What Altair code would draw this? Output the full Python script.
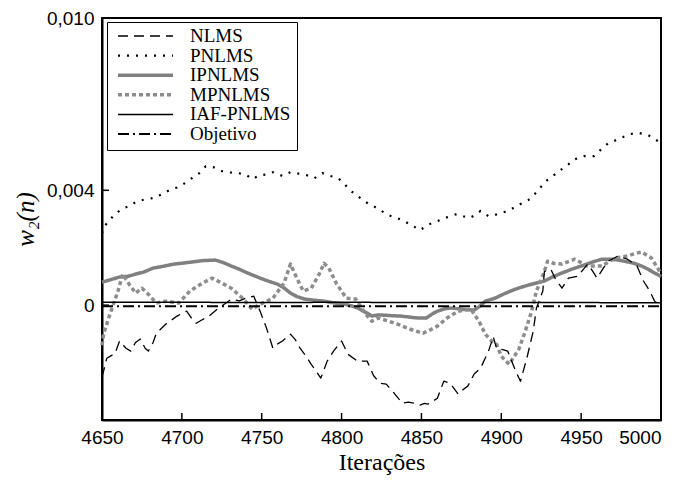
import altair as alt
import pandas as pd

series_names = ["NLMS", "PNLMS", "IPNLMS", "MPNLMS", "IAF-PNLMS", "Objetivo"]

nlms_it = [4650, 4651, 4653, 4656, 4658, 4661, 4665, 4668, 4671, 4674, 4677, 4679, 4682, 4684, 4690,
           4697, 4703, 4706, 4709, 4713, 4717, 4723, 4727, 4731, 4736, 4740, 4745, 4749, 4753, 4757,
           4760, 4763, 4768, 4771, 4774, 4778, 4781, 4784, 4787, 4791, 4795, 4800, 4804, 4810, 4816,
           4820, 4824, 4828, 4833, 4838, 4842, 4845, 4849, 4852, 4854, 4857, 4860, 4864, 4868, 4873,
           4876, 4879, 4883, 4887, 4892, 4895, 4897, 4901, 4904, 4909, 4912, 4916, 4920, 4922, 4926,
           4927, 4931, 4934, 4938, 4942, 4948, 4954, 4957, 4960, 4964, 4967, 4973, 4979, 4985, 4989,
           4993, 4996, 5000]
nlms_val = [-0.00250, -0.00230, -0.00185, -0.00175, -0.00171, -0.00125, -0.00150, -0.00160, -0.00130,
            -0.00118, -0.00150, -0.00160, -0.00130, -0.00098, -0.00066, -0.00038, -0.00021, -0.00045,
            -0.00063, -0.00050, -0.00038, -0.00010, 0.00005, 0.00021, 0.00015, 0.00024, 0.00031,
            -0.00021, -0.00080, -0.00150, -0.00135, -0.00125, -0.00101, -0.00120, -0.00150, -0.00180,
            -0.00206, -0.00230, -0.00254, -0.00195, -0.00160, -0.00125, -0.00171, -0.00195, -0.00195,
            -0.00245, -0.00272, -0.00275, -0.00307, -0.00341, -0.00338, -0.00341, -0.00348, -0.00342,
            -0.00345, -0.00335, -0.00324, -0.00265, -0.00272, -0.00310, -0.00295, -0.00282, -0.00240,
            -0.00220, -0.00160, -0.00110, -0.00150, -0.00155, -0.00160, -0.00230, -0.00265, -0.00185,
            -0.00091, -0.00010, 0.00049, 0.00118, 0.00125, 0.00090, 0.00059, 0.00094, 0.00101, 0.00143,
            0.00120, 0.00094, 0.00130, 0.00153, 0.00171, 0.00160, 0.00136, 0.00084, 0.00049, 0.00014,
            -0.00005]

pnlms_it = [4650, 4651, 4653, 4657, 4662, 4667, 4672, 4677, 4682, 4687, 4692, 4697, 4702, 4707, 4711,
            4715, 4720, 4725, 4730, 4735, 4740, 4744, 4749, 4753, 4757, 4763, 4768, 4773, 4778, 4783,
            4788, 4793, 4798, 4802, 4806, 4810, 4815, 4820, 4825, 4830, 4835, 4840, 4845, 4849, 4855,
            4859, 4863, 4868, 4872, 4876, 4880, 4884, 4887, 4892, 4898, 4904, 4908, 4912, 4917, 4921,
            4928, 4933, 4938, 4942, 4946, 4952, 4958, 4963, 4967, 4972, 4976, 4981, 4986, 4992, 4996,
            5000]
pnlms_val = [0.00250, 0.00265, 0.00286, 0.00310, 0.00334, 0.00345, 0.00362, 0.00368, 0.00373, 0.00385,
             0.00400, 0.00410, 0.00425, 0.00445, 0.00460, 0.00484, 0.00480, 0.00467, 0.00462, 0.00460,
             0.00455, 0.00439, 0.00453, 0.00455, 0.00463, 0.00450, 0.00463, 0.00458, 0.00453, 0.00442,
             0.00460, 0.00450, 0.00442, 0.00420, 0.00397, 0.00380, 0.00359, 0.00345, 0.00328, 0.00312,
             0.00303, 0.00290, 0.00275, 0.00261, 0.00282, 0.00290, 0.00300, 0.00310, 0.00317, 0.00310,
             0.00303, 0.00315, 0.00328, 0.00310, 0.00317, 0.00328, 0.00340, 0.00352, 0.00366, 0.00387,
             0.00432, 0.00453, 0.00474, 0.00490, 0.00508, 0.00519, 0.00519, 0.00545, 0.00564, 0.00575,
             0.00585, 0.00596, 0.00600, 0.00592, 0.00578, 0.00565]

ipnlms_it = [4650, 4655, 4661, 4666, 4671, 4676, 4682, 4688, 4695, 4700, 4706, 4713, 4721, 4726, 4731,
             4736, 4741, 4745, 4749, 4755, 4760, 4764, 4768, 4772, 4777, 4783, 4789, 4795, 4802, 4806,
             4810, 4815, 4819, 4823, 4827, 4832, 4837, 4843, 4848, 4853, 4857, 4860, 4865, 4869, 4875,
             4879, 4883, 4887, 4890, 4896, 4902, 4909, 4914, 4919, 4927, 4932, 4938, 4944, 4950, 4957,
             4963, 4968, 4973, 4978, 4983, 4988, 4992, 4996, 5000]
ipnlms_val = [0.00080, 0.00088, 0.00098, 0.00100, 0.00108, 0.00115, 0.00129, 0.00135, 0.00143, 0.00146,
              0.00150, 0.00155, 0.00157, 0.00148, 0.00136, 0.00125, 0.00112, 0.00103, 0.00094, 0.00082,
              0.00073, 0.00060, 0.00042, 0.00030, 0.00021, 0.00017, 0.00014, 0.00008, 0.00003, -0.00002,
              -0.00010, -0.00025, -0.00038, -0.00034, -0.00035, -0.00037, -0.00038, -0.00042, -0.00045,
              -0.00045, -0.00030, -0.00021, -0.00012, -0.00010, -0.00014, -0.00016, -0.00017, -0.00002,
              0.00014, 0.00024, 0.00040, 0.00056, 0.00065, 0.00073, 0.00084, 0.00098, 0.00112, 0.00125,
              0.00136, 0.00150, 0.00160, 0.00160, 0.00157, 0.00152, 0.00146, 0.00136, 0.00125, 0.00112,
              0.00100]

mpnlms_it = [4650, 4651, 4655, 4660, 4663, 4667, 4671, 4675, 4679, 4684, 4690, 4698, 4705, 4713, 4719,
             4725, 4731, 4738, 4744, 4749, 4757, 4764, 4768, 4772, 4776, 4781, 4786, 4789, 4792, 4797,
             4803, 4809, 4815, 4819, 4823, 4829, 4835, 4843, 4851, 4856, 4860, 4866, 4873, 4881, 4886,
             4890, 4894, 4897, 4900, 4905, 4911, 4915, 4919, 4922, 4927, 4929, 4933, 4938, 4946, 4954,
             4963, 4971, 4979, 4984, 4988, 4994, 5000]
mpnlms_val = [-0.00140, -0.00101, -0.00031, 0.00049, 0.00108, 0.00073, 0.00042, 0.00059, 0.00038,
              0.00007, 0.00014, 0.00007, 0.00049, 0.00077, 0.00094, 0.00077, 0.00059, 0.00024, -0.00014,
              0.00003, 0.00024, 0.00077, 0.00143, 0.00094, 0.00049, 0.00059, 0.00108, 0.00146, 0.00129,
              0.00073, 0.00024, 0.00021, -0.00031, -0.00056, -0.00045, -0.00055, -0.00066, -0.00084,
              -0.00098, -0.00085, -0.00073, -0.00045, -0.00021, -0.00014, -0.00056, -0.00101, -0.00125,
              -0.00136, -0.00178, -0.00206, -0.00153, -0.00091, -0.00021, 0.00049, 0.00118, 0.00153,
              0.00145, 0.00143, 0.00160, 0.00136, 0.00136, 0.00164, 0.00171, 0.00180, 0.00185, 0.00164,
              0.00110]

iaf_it = [4650, 4700, 4750, 4800, 4850, 4900, 4950, 5000]
iaf_val = [0.00010, 0.00010, 0.00009, 0.00010, 0.00009, 0.00009, 0.00009, 0.00008]

obj_it = [4650, 5000]
obj_val = [-0.00004, -0.00004]

x_ticks = [4650, 4700, 4750, 4800, 4850, 4900, 4950, 5000]
y_ticks = [0, 0.004, 0.010]

colors = ["black", "black", "#808080", "#8c8c8c", "black", "black"]
dashes = [[10, 6], [2, 7], [1, 0], [4, 3], [1, 0], [11, 4, 2, 4]]
widths = [1.3, 2.2, 3.5, 3.5, 1.5, 2.0]

draw_order = [("IPNLMS", ipnlms_it, ipnlms_val), ("MPNLMS", mpnlms_it, mpnlms_val),
              ("PNLMS", pnlms_it, pnlms_val), ("NLMS", nlms_it, nlms_val),
              ("IAF-PNLMS", iaf_it, iaf_val), ("Objetivo", obj_it, obj_val)]

frames = []
for k, (name, its, vals) in enumerate(draw_order):
    frames.append(pd.DataFrame({"it": its, "v": vals, "serie": name, "ordem": k}))
df = pd.concat(frames, ignore_index=True)

x_scale = alt.Scale(domain=[4650, 5000], nice=False, zero=False)
y_scale = alt.Scale(domain=[-0.004, 0.010], nice=False, zero=False)

lines = alt.Chart(df).mark_line(strokeCap="butt", strokeJoin="round").encode(
    x=alt.X("it:Q", scale=x_scale,
            axis=alt.Axis(values=x_ticks, title="Iterações", format="d", labelFlush=False,
                          labelAlign={"expr": "datum.value == 5000 ? 'right' : 'center'"},
                          labelPadding=8, tickSize=0, titlePadding=3)),
    y=alt.Y("v:Q", scale=y_scale,
            axis=alt.Axis(values=y_ticks, title="w₂(n)", tickSize=0, labelPadding=8,
                          labelFlush=False, titlePadding=8, titleFontStyle="italic",
                          titleFontSize=25,
                          labelExpr="datum.value == 0 ? '0' : replace(format(datum.value, '.3f'), '.', ',')")),
    color=alt.Color("serie:N", scale=alt.Scale(domain=series_names, range=colors),
                    legend=alt.Legend(title=None, orient="none", legendX=5, legendY=4,
                                      padding=6, strokeColor="black", fillColor="white",
                                      symbolType="stroke", symbolSize=3025, clipHeight=16,
                                      symbolOffset=3, rowPadding=0.6, labelOffset=15,
                                      labelFont="Liberation Serif",
                                      labelFontSize=19, labelColor="black", labelLimit=300)),
    strokeDash=alt.StrokeDash("serie:N", scale=alt.Scale(domain=series_names, range=dashes)),
    strokeWidth=alt.StrokeWidth("serie:N",
                                scale=alt.Scale(type="ordinal", domain=series_names, range=widths)),
    detail="ordem:O",
    order="it:Q",
)

xt = alt.Chart(pd.DataFrame({"it": x_ticks[1:-1]})).mark_rule(color="black", strokeWidth=1.5).encode(
    x=alt.X("it:Q", scale=x_scale), y=alt.value(402), y2=alt.value(395))
yt = alt.Chart(pd.DataFrame({"v": y_ticks[:-1]})).mark_rule(color="black", strokeWidth=1.5).encode(
    y=alt.Y("v:Q", scale=y_scale), x=alt.value(0), x2=alt.value(7))

chart = alt.layer(lines, xt, yt).properties(
    width=559, height=402,
    autosize=alt.AutoSizeParams(type="none"),
    padding={"left": 94, "top": 10, "right": 14, "bottom": 56},
    background="white",
).configure_view(stroke="black", strokeWidth=2).configure_axis(
    grid=False, domainColor="black", domainWidth=2,
    labelFont="Liberation Sans", labelFontSize=19, labelColor="black",
    titleFont="Liberation Serif", titleFontSize=24, titleFontWeight="normal", titleColor="black",
)

chart.save("out.html", embed_options={"renderer": "svg", "actions": False})
